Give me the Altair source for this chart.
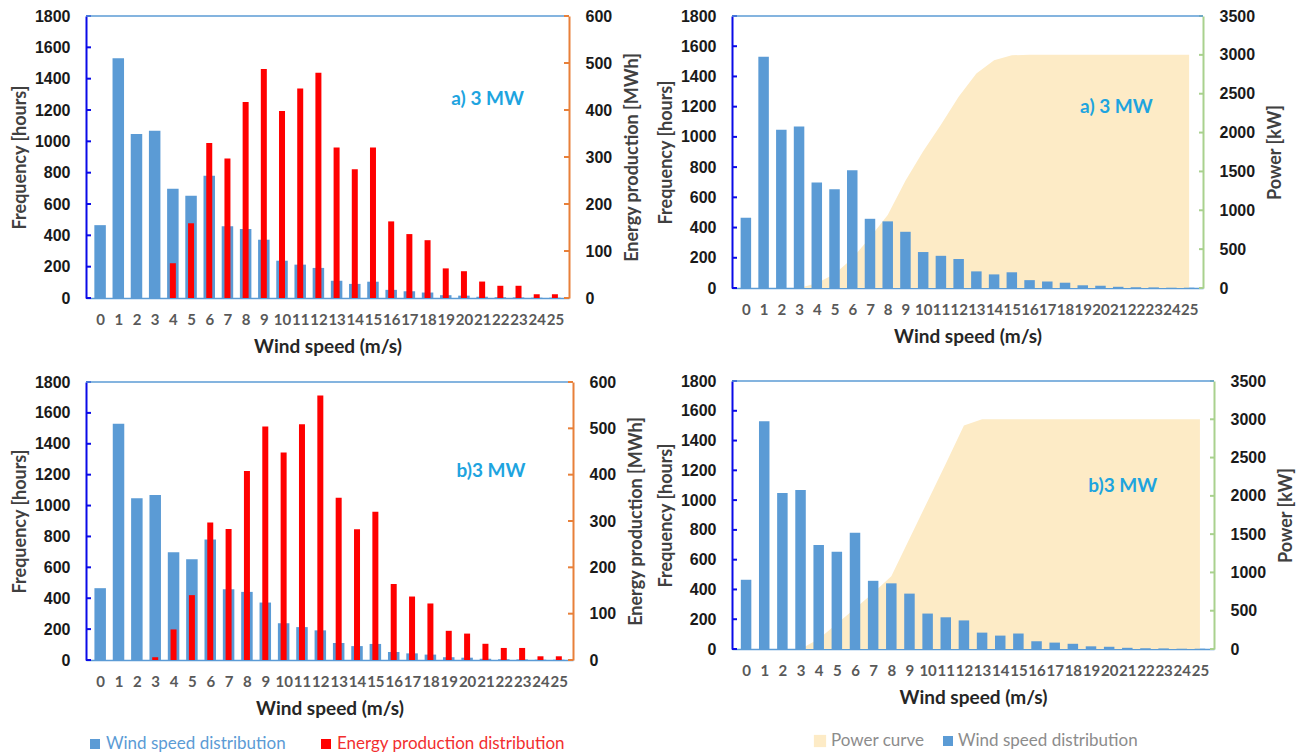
import altair as alt
import pandas as pd

# ---------------- data ----------------
wind_speed = list(range(26))
frequency = [465, 1530, 1047, 1068, 698, 653, 780, 458, 441, 372, 238, 213, 192,
             110, 90, 104, 52, 43, 35, 18, 15, 8, 5, 4, 2, 2]
energy_a = [0, 0, 0, 0, 74, 159, 330, 297, 417, 487, 398, 446, 479,
            320, 274, 320, 163, 136, 123, 63, 57, 35, 26, 26, 8, 8]
energy_b = [0, 0, 0, 6, 66, 140, 297, 283, 408, 504, 448, 509, 571,
            350, 282, 320, 164, 137, 122, 63, 57, 35, 26, 26, 8, 8]
power_a = [0, 0, 0, 0, 60, 180, 380, 650, 940, 1380, 1760, 2100, 2460,
           2760, 2930, 2995, 3000, 3000, 3000, 3000, 3000, 3000, 3000, 3000, 3000, 3000]
power_b = [0, 0, 0, 0, 130, 330, 530, 730, 950, 1440, 1930, 2420, 2920,
           3000, 3000, 3000, 3000, 3000, 3000, 3000, 3000, 3000, 3000, 3000, 3000, 3000]

freq_ticks = list(range(0, 1801, 200))
energy_ticks = list(range(0, 601, 100))
power_ticks = list(range(0, 3501, 500))

panel_labels = ["a) 3 MW", "a) 3 MW", "b)3 MW", "b)3 MW"]
label_ws = [21.3, 20.9, 21.3, 20.75]
label_freq = [1270, 1200, 1222, 1094]

legend_left = ["Wind speed distribution", "Energy production distribution"]
legend_right = ["Power curve", "Wind speed distribution"]

# ---------------- styles ----------------
BLUE = "#5B9BD5"
DARKBLUE = "#0A0AE8"
RED = "#FF0000"
TAN = "#FDEBC6"
ORANGE = "#E8803A"
GREEN = "#A9D18E"
ANNOT = "#1EA4DF"
NUM_FONT = "Liberation Sans"
TXT_FONT = "Lato"

df = pd.DataFrame({"ws": wind_speed, "freq": frequency,
                   "energy_a": energy_a, "energy_b": energy_b,
                   "power_a": power_a, "power_b": power_b})

x_scale = alt.Scale(domain=[-0.5, 25.5], nice=False, zero=False)
freq_scale = alt.Scale(domain=[0, 1800], nice=False)
energy_scale = alt.Scale(domain=[0, 600], nice=False)
power_scale = alt.Scale(domain=[0, 3500], nice=False)


def x_axis():
    return alt.Axis(values=wind_speed, format="d", title="Wind speed (m/s)",
                    labelFont=TXT_FONT, labelFontWeight="bold", labelFontSize=15,
                    labelColor="#595959", labelPadding=14, labelOverlap=False,
                    labelFlush=False, labelBound=False, ticks=False, tickSize=0,
                    domainColor=BLUE, domainWidth=1.5, grid=False,
                    titleFont=TXT_FONT, titleFontSize=19, titleFontWeight="bold",
                    titleColor="#262626", titlePadding=10)


def left_axis():
    return alt.Axis(values=freq_ticks, format="d", title="Frequency [hours]",
                    orient="left",
                    labelFont=NUM_FONT, labelFontSize=16, labelFontWeight="bold",
                    labelColor="#1A1A1A", labelPadding=16, ticks=False, tickSize=0,
                    domainColor=DARKBLUE, domainWidth=2, grid=False,
                    titleFont=TXT_FONT, titleFontSize=18, titleFontWeight="bold",
                    titleColor="#404040", titlePadding=5)


def right_axis(values, title, color):
    return alt.Axis(values=values, format="d", title=title, orient="right",
                    labelFont=NUM_FONT, labelFontSize=16, labelFontWeight="bold",
                    labelColor="#1A1A1A", labelPadding=16, ticks=False, tickSize=0,
                    domainColor=color, domainWidth=2, grid=False,
                    titleFont=TXT_FONT, titleFontSize=18, titleFontWeight="bold",
                    titleColor="#404040", titlePadding=12, titleAngle=270,
                    titleBaseline="top")


def X():
    return alt.X("ws:Q", scale=x_scale, axis=x_axis())


def YF():
    return alt.Y("freq:Q", scale=freq_scale, axis=left_axis())


def panel(idx, w, h, kind, bar_size, legend_y=None):
    base = alt.Chart(df)
    blue = base.mark_bar(color=BLUE, size=bar_size).encode(x=X(), y=YF())
    lticks = alt.Chart(pd.DataFrame({"freq": freq_ticks})).mark_rule(
        color=DARKBLUE, strokeWidth=2).encode(
        y=YF(), x=alt.value(0), x2=alt.value(5))
    top = alt.Chart(pd.DataFrame({"a": [0]})).mark_rule(
        color=BLUE, strokeWidth=1.5).encode(
        x=alt.value(0), x2=alt.value(w), y=alt.value(0))
    ann = alt.Chart(pd.DataFrame({"ws": [label_ws[idx]], "freq": [label_freq[idx]],
                                  "t": [panel_labels[idx]]})).mark_text(
        font=TXT_FONT, fontWeight="bold", fontSize=19, color=ANNOT).encode(
        x=X(), y=YF(), text="t:N")
    left_layers = [blue, lticks, top, ann]

    if legend_y is not None:
        dummy = pd.DataFrame({"a": [0]})
        if kind == "energy":
            items = [(9, 20, BLUE, BLUE, legend_left[0], 100),
                     (240, 251, RED, "#F22F2F", legend_left[1], 100)]
        else:
            items = [(88, 99, TAN, "#8C8C8C", legend_right[0], 150),
                     (216, 226, BLUE, "#8C8C8C", legend_right[1], 100)]
        for sx, tx, scol, tcol, txt, ssize in items:
            left_layers.append(alt.Chart(dummy).mark_square(
                color=scol, size=ssize, opacity=1).encode(
                x=alt.value(sx), y=alt.value(legend_y)))
            left_layers.append(alt.Chart(pd.DataFrame({"t": [txt]})).mark_text(
                font=TXT_FONT, fontSize=17, color=tcol, align="left",
                baseline="middle").encode(
                x=alt.value(tx), y=alt.value(legend_y), text="t:N"))

    if kind == "energy":
        col = "energy_a" if idx == 0 else "energy_b"
        rax = right_axis(energy_ticks, "Energy production [MWh]", ORANGE)
        red = base.mark_bar(color=RED, size=6).encode(
            x=X(), y=alt.Y(f"{col}:Q", scale=energy_scale, axis=rax))
        rticks = alt.Chart(pd.DataFrame({col: energy_ticks})).mark_rule(
            color=ORANGE, strokeWidth=2).encode(
            y=alt.Y(f"{col}:Q", scale=energy_scale, axis=rax),
            x=alt.value(w - 5), x2=alt.value(w))
        chart = alt.layer(alt.layer(*left_layers), alt.layer(red, rticks))
    else:
        col = "power_a" if idx == 1 else "power_b"
        rax = right_axis(power_ticks, "Power [kW]", GREEN)
        area = base.mark_area(color=TAN, opacity=1).encode(
            x=X(), y=alt.Y(f"{col}:Q", scale=power_scale, axis=rax))
        rticks = alt.Chart(pd.DataFrame({col: power_ticks})).mark_rule(
            color=GREEN, strokeWidth=2).encode(
            y=alt.Y(f"{col}:Q", scale=power_scale, axis=rax),
            x=alt.value(w - 4), x2=alt.value(w))
        chart = alt.layer(alt.layer(area, rticks), alt.layer(*left_layers))
    return chart.resolve_scale(y="independent").properties(width=w, height=h)


tl = panel(0, 483, 282, "energy", 11.5)
tr = panel(1, 471, 272, "power", 10.5)
bl = panel(2, 487, 278, "energy", 11.5, legend_y=362)
br = panel(3, 482, 268, "power", 10.5, legend_y=360)

left = alt.vconcat(tl, bl, spacing=18)
right = alt.vconcat(tr, br, spacing=27)

chart = alt.hconcat(left, right, spacing=11).properties(
    padding={"left": 11, "top": 8, "right": 5, "bottom": 5},
    background="white",
).configure_view(stroke=None)

chart.save("out.html", embed_options={"renderer": "svg", "actions": False})
